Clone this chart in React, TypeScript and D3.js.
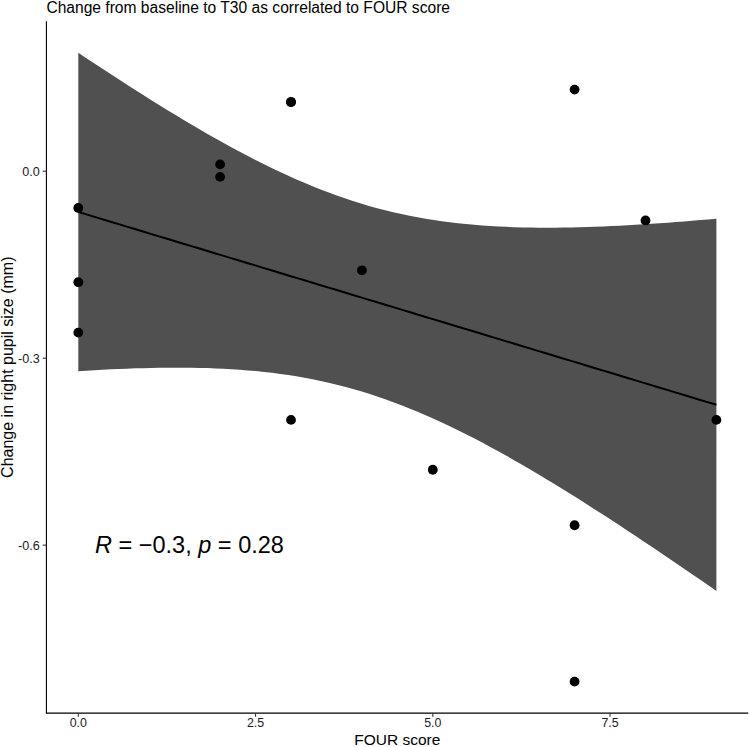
import React from "react";
import * as d3 from "d3";

// FOUR score (x) and change in right pupil size in mm (y); one point at (3, 0.111) is overplotted twice
const fourScore = [0, 0, 0, 2, 2, 3, 3, 3, 4, 5, 7, 7, 7, 8, 9];
const pupilChange = [-0.059, -0.178, -0.259, 0.011, -0.009, 0.111, 0.111, -0.399, -0.159, -0.479, 0.131, -0.568, -0.819, -0.079, -0.399];
const xTicks = [0, 2.5, 5, 7.5];
const yTicks = [0, -0.3, -0.6];
const titleText = "Change from baseline to T30 as correlated to FOUR score";
const xTitle = "FOUR score";
const yTitle = "Change in right pupil size (mm)";
const corrR = "\u22120.3";
const corrP = "0.28";
const T_CRIT = 2.1604; // t quantile 0.975, df = n - 2 = 13

const W = 749;
const H = 747;
const panel = { left: 46.4, right: 748.3, top: 21.3, bottom: 713.1 };

function fitLm(xs: number[], ys: number[]) {
  const n = xs.length;
  const mx = d3.mean(xs)!;
  const my = d3.mean(ys)!;
  let sxx = 0, sxy = 0;
  xs.forEach((x, i) => {
    sxx += (x - mx) ** 2;
    sxy += (x - mx) * (ys[i] - my);
  });
  const slope = sxy / sxx;
  const intercept = my - slope * mx;
  let sse = 0;
  xs.forEach((x, i) => {
    sse += (ys[i] - (intercept + slope * x)) ** 2;
  });
  const s = Math.sqrt(sse / (n - 2));
  return { n, mx, sxx, slope, intercept, s };
}

export default function App() {
  const fit = fitLm(fourScore, pupilChange);
  const [x0, x1] = d3.extent(fourScore) as [number, number];
  const grid = d3.range(0, 80).map((i) => x0 + ((x1 - x0) * i) / 79);
  const band = grid.map((x) => {
    const yhat = fit.intercept + fit.slope * x;
    const se = fit.s * Math.sqrt(1 / fit.n + (x - fit.mx) ** 2 / fit.sxx);
    return { x, yhat, lo: yhat - T_CRIT * se, hi: yhat + T_CRIT * se };
  });

  const xr = x1 - x0;
  const xScale = d3
    .scaleLinear()
    .domain([x0 - 0.05 * xr, x1 + 0.05 * xr])
    .range([panel.left, panel.right]);

  const allY = [...pupilChange, ...band.map((d) => d.lo), ...band.map((d) => d.hi)];
  const [y0, y1] = d3.extent(allY) as [number, number];
  const yr = y1 - y0;
  const yScale = d3
    .scaleLinear()
    .domain([y0 - 0.05 * yr, y1 + 0.05 * yr])
    .range([panel.bottom, panel.top]);

  const area = d3
    .area<{ x: number; lo: number; hi: number }>()
    .x((d) => xScale(d.x))
    .y0((d) => yScale(d.lo))
    .y1((d) => yScale(d.hi));
  const line = d3
    .line<{ x: number; yhat: number }>()
    .x((d) => xScale(d.x))
    .y((d) => yScale(d.yhat));

  const font = "'Liberation Sans', Arial, Helvetica, sans-serif";
  const fmt = (v: number) => v.toFixed(1);

  return (
    <div style={{ position: "absolute", left: 0, top: 0 }}>
      <svg width={W} height={H} style={{ display: "block", background: "#fff" }} fontFamily={font}>
        <rect x={0} y={0} width={W} height={H} fill="#fff" />
        <text x={panel.left} y={12.5} fontSize={15.6} fill="#000">
          {titleText}
        </text>

        <path d={area(band) || ""} fill="#505050" stroke="none" />
        <path d={line(band) || ""} fill="none" stroke="#000" strokeWidth={2} />
        {fourScore.map((x, i) => (
          <circle key={i} cx={xScale(x)} cy={yScale(pupilChange[i])} r={4.9} fill="#000" />
        ))}

        {/* axes */}
        <line x1={panel.left} x2={panel.left} y1={panel.top} y2={panel.bottom + 0.5} stroke="#000" strokeWidth={1.1} />
        <line x1={panel.left - 0.5} x2={panel.right} y1={panel.bottom} y2={panel.bottom} stroke="#000" strokeWidth={1.1} />
        {yTicks.map((t) => (
          <g key={t}>
            <line x1={panel.left - 3.7} x2={panel.left} y1={yScale(t)} y2={yScale(t)} stroke="#333" strokeWidth={1.1} />
            <text x={panel.left - 6.6} y={yScale(t)} dy="0.36em" textAnchor="end" fontSize={12.6} fill="#1a1a1a">
              {fmt(t)}
            </text>
          </g>
        ))}
        {xTicks.map((t) => (
          <g key={t}>
            <line x1={xScale(t)} x2={xScale(t)} y1={panel.bottom} y2={panel.bottom + 3.7} stroke="#333" strokeWidth={1.1} />
            <text x={xScale(t)} y={panel.bottom + 14} textAnchor="middle" fontSize={12.4} fill="#1a1a1a">
              {fmt(t)}
            </text>
          </g>
        ))}
        <text x={(panel.left + panel.right) / 2} y={745} textAnchor="middle" fontSize={15.5} fill="#000">
          {xTitle}
        </text>
        <text
          transform={`translate(${13},${(panel.top + panel.bottom) / 2}) rotate(-90)`}
          textAnchor="middle"
          fontSize={16}
          fill="#000"
        >
          {yTitle}
        </text>

        <text x={95} y={yScale(-0.6) + 8} fontSize={23.5} fill="#000">
          <tspan fontStyle="italic">R</tspan>
          <tspan> = {corrR}, </tspan>
          <tspan fontStyle="italic">p</tspan>
          <tspan> = {corrP}</tspan>
        </text>
      </svg>
    </div>
  );
}
